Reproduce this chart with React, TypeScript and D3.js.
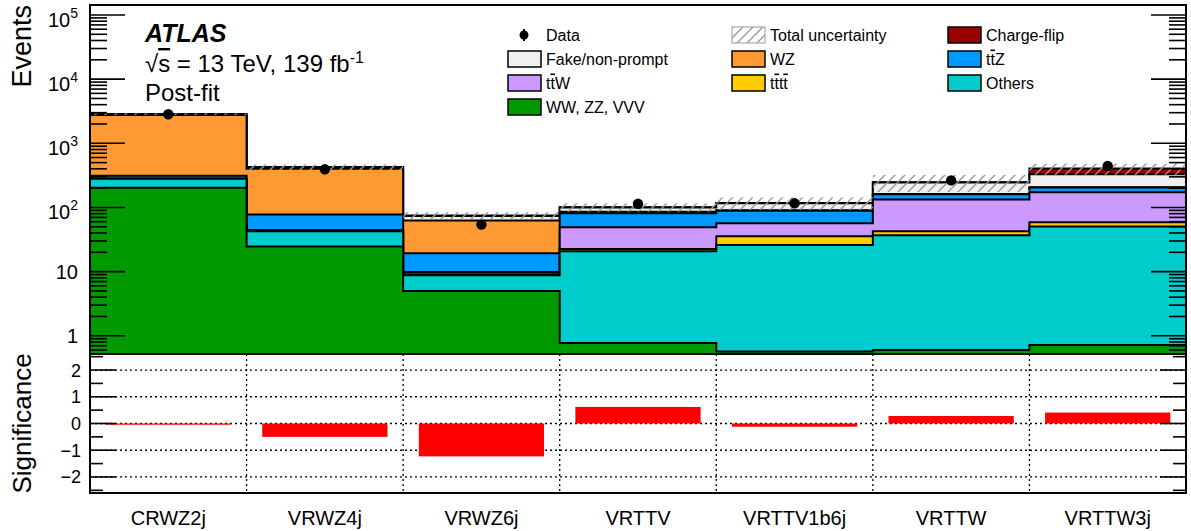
import * as d3 from "d3";

// regions
const categories = ["CRWZ2j", "VRWZ4j", "VRWZ6j", "VRTTV", "VRTTV1b6j", "VRTTW", "VRTTW3j"];

// post-fit yields per region (stack order, bottom to top)
const wwZzVvv = [203, 24.6, 5.0, 0.77, 0.57, 0.6, 0.72];
const others = [76, 18, 3.76, 20.0, 25.5, 36.3, 49.8];
const tttt = [0.1, 0.3, 0.3, 1.8, 9.5, 5.7, 8.5];
const ttW = [2, 1.5, 0.8, 26.6, 21.3, 90.4, 114];
const ttZ = [32, 33.4, 9.5, 32.3, 31.9, 27, 32];
const wz = [2440, 325, 43, 4, 2, 2, 2];
const fake = [70, 20, 11, 14, 25, 83, 121];
const chargeFlip = [8, 3, 1.5, 1.5, 2, 3, 75];

const observed = [2840, 393, 54, 114, 116, 264, 442];
const relUncertainty = [0.03, 0.1, 0.13, 0.15, 0.22, 0.3, 0.2];
const significance = [-0.03, -0.5, -1.23, 0.62, -0.12, 0.28, 0.41];

const yMajor = [1, 10, 100, 1e3, 1e4, 1e5];
const yMajorLabels = ["1", "10", "10^2", "10^3", "10^4", "10^5"];
const sigTicks = [-2, -1, 0, 1, 2];
const sigMinor = [-2.5, -1.5, -0.5, 0.5, 1.5, 2.5];

const stack = [
  { name: "WW, ZZ, VVV", values: wwZzVvv, color: "#009900" },
  { name: "Others", values: others, color: "#00cccc" },
  { name: "tttt", values: tttt, color: "#ffcc00" },
  { name: "ttW", values: ttW, color: "#cc99ff" },
  { name: "ttZ", values: ttZ, color: "#0099ff" },
  { name: "WZ", values: wz, color: "#ff9933" },
  { name: "Fake/non-prompt", values: fake, color: "#f0f0f0" },
  { name: "Charge-flip", values: chargeFlip, color: "#990000" },
];

const W = 1191;
const H = 531;
const left = 90;
const right = 1186;
const top = 5;
const mid = 354;
const bottom = 493;
const font = "'Liberation Sans', Arial, Helvetica, sans-serif";

function TT({ label }: { label: string }) {
  // t-tbar style labels
  if (label === "ttW" || label === "ttZ")
    return (
      <>
        t<tspan style={{ textDecoration: "overline" }}>t</tspan>
        {label[2]}
      </>
    );
  if (label === "tttt")
    return (
      <>
        t<tspan style={{ textDecoration: "overline" }}>t</tspan>t
        <tspan style={{ textDecoration: "overline" }}>t</tspan>
      </>
    );
  return <>{label}</>;
}

export default function App() {
  const x = d3.scaleBand<string>().domain(categories).range([left, right]).padding(0);
  const y = d3.scaleLog().domain([0.52, 1.43e5]).range([mid, top]);
  const ys = d3.scaleLinear().domain([-2.6, 2.6]).range([bottom, mid]);
  const bw = x.bandwidth();
  const edges = categories.map((c) => x(c) as number).concat([right]);

  // cumulative sums
  const cums: number[][] = [];
  stack.forEach((s, k) => {
    cums.push(s.values.map((v, i) => v + (k > 0 ? cums[k - 1][i] : 0)));
  });
  const total = cums[cums.length - 1];

  const stepPts = (cum: number[]) =>
    cum.map((v, i) => [edges[i], v] as [number, number]).concat([[right, cum[cum.length - 1]]]);
  const area = d3
    .area<[number, number]>()
    .x((d) => d[0])
    .y0(mid)
    .y1((d) => y(d[1]))
    .curve(d3.curveStepAfter);
  const line = d3
    .line<[number, number]>()
    .x((d) => d[0])
    .y((d) => y(d[1]))
    .curve(d3.curveStepAfter);

  const yMinor: number[] = [];
  [0.1, 1, 10, 100, 1e3, 1e4].forEach((d) => {
    for (let k = 2; k <= 9; k++) {
      const v = k * d;
      if (v > 0.52 && v < 1.43e5) yMinor.push(v);
    }
  });

  const legendCols = [508, 732, 948];
  const legendRows = [35, 59, 83, 107];
  const legend = [
    { name: "Data", col: 0, row: 0, kind: "data" },
    { name: "Total uncertainty", col: 1, row: 0, kind: "unc" },
    { name: "Charge-flip", col: 2, row: 0, color: "#990000" },
    { name: "Fake/non-prompt", col: 0, row: 1, color: "#f0f0f0" },
    { name: "WZ", col: 1, row: 1, color: "#ff9933" },
    { name: "ttZ", col: 2, row: 1, color: "#0099ff" },
    { name: "ttW", col: 0, row: 2, color: "#cc99ff" },
    { name: "tttt", col: 1, row: 2, color: "#ffcc00" },
    { name: "Others", col: 2, row: 2, color: "#00cccc" },
    { name: "WW, ZZ, VVV", col: 0, row: 3, color: "#009900" },
  ];

  return (
    <svg
      width={W}
      height={H}
      style={{ position: "absolute", left: 0, top: 0, background: "#fff" }}
      fontFamily={font}
    >
      <defs>
        <clipPath id="topClip">
          <rect x={left} y={top} width={right - left} height={mid - top} />
        </clipPath>
        <pattern id="hatch" patternUnits="userSpaceOnUse" width={10} height={10}>
          <path d="M0,10 L10,0 M-2,2 L2,-2 M8,12 L12,8" stroke="#999" strokeWidth={1.4} />
        </pattern>
      </defs>

      {/* stacked histograms, drawn from the largest cumulative down */}
      <g clipPath="url(#topClip)">
        {cums
          .map((cum, k) => ({ cum, k }))
          .reverse()
          .map(({ cum, k }) => (
            <g key={k}>
              <path d={area(stepPts(cum)) as string} fill={stack[k].color} />
              <path d={line(stepPts(cum)) as string} fill="none" stroke="#000" strokeWidth={2} />
            </g>
          ))}
        {/* total uncertainty band */}
        {total.map((t, i) => (
          <rect
            key={i}
            x={edges[i]}
            width={bw}
            y={y(t * (1 + relUncertainty[i]))}
            height={y(t * (1 - relUncertainty[i])) - y(t * (1 + relUncertainty[i]))}
            fill="url(#hatch)"
          />
        ))}
        {/* data */}
        {observed.map((d, i) => {
          const cx = (x(categories[i]) as number) + bw / 2;
          const e = Math.sqrt(d);
          return (
            <g key={i}>
              <line x1={cx} x2={cx} y1={y(d + e)} y2={y(d - e)} stroke="#000" strokeWidth={2} />
              <circle cx={cx} cy={y(d)} r={5.2} fill="#000" />
            </g>
          );
        })}
      </g>

      {/* top panel axes */}
      {yMajor.map((v) => (
        <g key={v}>
          <line x1={left} x2={left + 35} y1={y(v)} y2={y(v)} stroke="#000" strokeWidth={1.6} />
          <line x1={right - 35} x2={right} y1={y(v)} y2={y(v)} stroke="#000" strokeWidth={1.6} />
        </g>
      ))}
      {yMinor.map((v) => (
        <g key={v}>
          <line x1={left} x2={left + 17} y1={y(v)} y2={y(v)} stroke="#000" strokeWidth={1.6} />
          <line x1={right - 17} x2={right} y1={y(v)} y2={y(v)} stroke="#000" strokeWidth={1.6} />
        </g>
      ))}
      {yMajor.map((v, i) => {
        const lab = yMajorLabels[i];
        if (lab.includes("^")) {
          const [b, p] = lab.split("^");
          return (
            <text key={v} x={78} y={y(v) + 12} fontSize={20} textAnchor="end" fill="#000">
              {b}
              <tspan dy={-9} fontSize={14}>
                {p}
              </tspan>
            </text>
          );
        }
        return (
          <text key={v} x={78} y={y(v) + 7} fontSize={20} textAnchor="end" fill="#000">
            {lab}
          </text>
        );
      })}
      <rect x={left} y={top} width={right - left} height={mid - top} fill="none" stroke="#000" strokeWidth={2} />
      <text transform={`translate(31,${top}) rotate(-90)`} fontSize={27} textAnchor="end" fill="#000">
        Events
      </text>

      {/* ATLAS label */}
      <text x={145} y={42} fontSize={25} fontWeight="bold" fontStyle="italic" fill="#000">
        ATLAS
      </text>
      <text x={145} y={72} fontSize={24} fill="#000">
        √<tspan style={{ textDecoration: "overline" }}>s</tspan> = 13 TeV, 139 fb
        <tspan dy={-9} fontSize={16}>
          -1
        </tspan>
      </text>
      <text x={145} y={101} fontSize={24} fill="#000">
        Post-fit
      </text>

      {/* legend */}
      {legend.map((l) => {
        const lx = legendCols[l.col];
        const ly = legendRows[l.row];
        return (
          <g key={l.name}>
            {l.kind === "data" ? (
              <g>
                <line x1={lx + 16} x2={lx + 16} y1={ly - 6} y2={ly + 6} stroke="#000" strokeWidth={2} />
                <circle cx={lx + 16} cy={ly} r={4.5} fill="#000" />
              </g>
            ) : l.kind === "unc" ? (
              <rect x={lx} y={ly - 8} width={33} height={16} fill="url(#hatch)" stroke="#aaa" strokeWidth={1.2} />
            ) : (
              <rect x={lx} y={ly - 8} width={33} height={16} fill={l.color} stroke="#000" strokeWidth={1.5} />
            )}
            <text x={lx + 38} y={ly + 5.5} fontSize={16} fill="#000">
              <TT label={l.name} />
            </text>
          </g>
        );
      })}

      {/* significance panel */}
      {sigTicks.map((v) => (
        <line
          key={v}
          x1={left}
          x2={right}
          y1={ys(v)}
          y2={ys(v)}
          stroke="#000"
          strokeWidth={1.3}
          strokeDasharray="2,3"
        />
      ))}
      {edges.slice(1, -1).map((e) => (
        <line key={e} x1={e} x2={e} y1={mid} y2={bottom} stroke="#000" strokeWidth={1.3} strokeDasharray="2,3" />
      ))}
      {significance.map((s, i) => {
        const x0 = (x(categories[i]) as number) + 0.1 * bw;
        const y0 = Math.min(ys(0), ys(s));
        const h = Math.max(1.2, Math.abs(ys(s) - ys(0)));
        return <rect key={i} x={x0} width={0.8 * bw} y={y0} height={h} fill="#ff0000" />;
      })}
      {sigTicks.map((v) => (
        <g key={v}>
          <line x1={left} x2={left + 26} y1={ys(v)} y2={ys(v)} stroke="#000" strokeWidth={1.6} />
          <line x1={right - 26} x2={right} y1={ys(v)} y2={ys(v)} stroke="#000" strokeWidth={1.6} />
          <text x={81} y={ys(v) + 6.5} fontSize={18} textAnchor="end" fill="#000">
            {v < 0 ? `\u2212${-v}` : `${v}`}
          </text>
        </g>
      ))}
      {sigMinor.map((v) => (
        <g key={v}>
          <line x1={left} x2={left + 13} y1={ys(v)} y2={ys(v)} stroke="#000" strokeWidth={1.6} />
          <line x1={right - 13} x2={right} y1={ys(v)} y2={ys(v)} stroke="#000" strokeWidth={1.6} />
        </g>
      ))}
      <rect x={left} y={mid} width={right - left} height={bottom - mid} fill="none" stroke="#000" strokeWidth={2} />
      <text
        transform={`translate(31,${(mid + bottom) / 2}) rotate(-90)`}
        fontSize={26}
        textAnchor="middle"
        fill="#000"
      >
        Significance
      </text>

      {/* category labels */}
      {categories.map((c) => (
        <text key={c} x={(x(c) as number) + bw / 2} y={525} fontSize={20} textAnchor="middle" fill="#000">
          {c}
        </text>
      ))}
    </svg>
  );
}
